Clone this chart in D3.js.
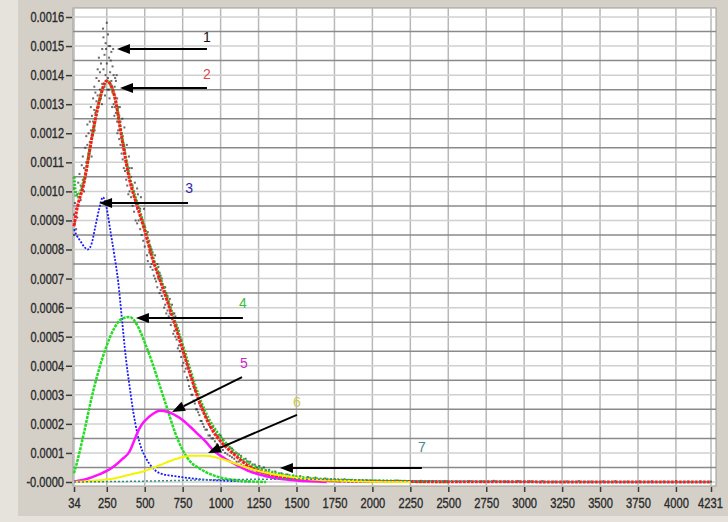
<!DOCTYPE html>
<html>
<head>
<meta charset="utf-8">
<script src="https://cdn.jsdelivr.net/npm/d3@7"></script>
<style>
	body { margin: 0; background: #d4d0c8; }
	svg { display: block; }
</style>
</head>
<body>
<div id="chart"></div>
<script>
// y values are in units of 1e-4
const xTicks = [34, 250, 500, 750, 1000, 1250, 1500, 1750, 2000, 2250, 2500, 2750, 3000, 3250, 3500, 3750, 4000, 4231];
const yTicks = [0, 1, 2, 3, 4, 5, 6, 7, 8, 9, 10, 11, 12, 13, 14, 15, 16];
const yTickLabels = ["-0.0000", "0.0001", "0.0002", "0.0003", "0.0004", "0.0005", "0.0006", "0.0007", "0.0008",
	"0.0009", "0.0010", "0.0011", "0.0012", "0.0013", "0.0014", "0.0015", "0.0016"];
const yMinorGrid = [0.5, 1.5, 2.5, 3.5, 4.5, 5.5, 6.5, 7.5, 8.5, 9.5, 10.5, 11.5, 12.5, 13.5, 14.5, 15.5];

// measured points (black): [x, y, y, ...]
const blackDots = [
	[34, 8.5, 9.2, 10.1], [40, 8.9, 9.6], [48, 9.4, 8.7], [55, 9.9, 9.1], [62, 9.5, 10.3], [70, 9.8, 10.6],
	[78, 10.2, 9.7], [85, 10.9, 10.1], [92, 10.4, 11.2], [100, 10.8, 10.0], [108, 11.5, 10.6], [115, 11.0, 11.9],
	[122, 11.6, 12.3], [130, 11.3, 12.0], [138, 12.4, 11.7], [145, 12.1, 12.9], [150, 11.2], [152, 12.6, 11.9], [160, 13.2, 12.4],
	[168, 12.8, 13.6], [170, 12.1], [175, 13.4, 12.7], [182, 13.9, 13.1], [190, 13.3, 14.2], [195, 12.9], [198, 13.8, 14.6], [205, 13.5, 14.1],
	[212, 14.4, 13.2], [218, 13.0], [220, 14.9, 13.7], [225, 15.6], [228, 14.2, 15.3], [235, 13.6, 14.7], [238, 13.3],
	[242, 15.1, 14.0], [245, 14.9], [250, 15.8, 14.4], [255, 13.5],
	[258, 13.9, 15.4], [262, 15.0], [265, 14.6, 13.5], [268, 13.2], [272, 15.0, 14.1], [276, 14.5], [280, 13.8, 14.8],
	[285, 12.9], [288, 14.3, 13.4], [292, 14.9], [295, 13.0, 14.0], [300, 12.6],
	[302, 13.6, 12.9], [305, 13.9], [310, 12.7, 13.8], [315, 14.0], [318, 13.2, 12.4], [320, 12.0], [325, 12.1, 12.9],
	[332, 12.6, 11.8], [336, 12.9], [340, 11.6, 12.4],
	[348, 12.0, 11.3], [352, 12.5], [355, 11.1, 11.9], [362, 11.6, 10.8], [366, 12.2], [370, 10.7, 11.4], [378, 11.0, 10.4],
	[382, 11.6], [385, 10.2, 10.9], [392, 10.6, 9.9], [396, 11.2], [400, 10.0, 10.8], [410, 9.8, 10.5], [415, 10.8],
	[420, 10.2, 9.5], [430, 9.3, 10.0], [435, 10.3], [440, 9.7, 9.0],
	[450, 9.4, 8.9, 10.1], [455, 9.9], [460, 9.0, 9.6], [470, 8.7, 9.4], [475, 9.8], [480, 9.1, 8.5], [490, 8.3, 9.0],
	[495, 9.4], [500, 8.8, 8.1],
	[515, 8.4, 7.8], [520, 8.6, 7.6], [530, 7.9, 8.3], [538, 8.1, 7.4], [545, 7.5, 8.0], [552, 7.9, 7.3], [560, 7.6, 7.1],
	[568, 7.8, 7.0], [575, 7.3, 6.9], [583, 7.5, 6.7], [590, 7.0, 7.4], [598, 7.2, 6.5],
	[605, 6.6, 7.1], [612, 7.0, 6.4], [620, 6.8, 6.3], [628, 6.7, 6.0], [635, 6.1, 6.7], [642, 6.5, 5.8], [650, 6.4, 5.9],
	[658, 6.2, 5.7], [665, 5.8, 6.3], [672, 6.0, 5.4], [680, 5.6, 6.1], [688, 5.8, 5.1],
	[695, 5.2, 5.8], [702, 5.7, 5.0], [710, 5.4, 4.9], [718, 5.3, 4.6], [725, 4.7, 5.2], [732, 5.0, 4.5], [740, 4.9, 4.3],
	[748, 4.7, 4.0], [755, 4.1, 4.6], [762, 4.4, 3.8], [770, 3.9, 4.4], [778, 4.1, 3.6],
	[785, 3.5, 4.0], [792, 3.9, 3.3], [800, 3.8, 3.2], [808, 3.6, 3.0], [815, 3.0, 3.5], [822, 3.3, 2.8], [830, 3.2, 2.7],
	[838, 3.1, 2.5], [845, 2.5, 3.0], [852, 2.9, 2.4], [860, 2.7, 2.3], [868, 2.6, 2.1],
	[875, 2.1, 2.6], [882, 2.5, 2.0], [890, 2.4, 1.9], [900, 2.3, 1.8], [910, 1.8, 2.2], [920, 2.1, 1.6], [930, 1.9, 1.6],
	[940, 1.9, 1.5], [950, 1.5, 1.9], [962, 1.8, 1.4], [975, 1.6, 1.3], [988, 1.6, 1.2],
	[1000, 1.2, 1.6], [1015, 1.45, 1.1], [1030, 1.3, 1.0], [1045, 1.3, 0.95], [1060, 0.9, 1.2], [1075, 1.15, 0.85],
	[1090, 1.0, 0.8], [1105, 1.0, 0.7], [1120, 0.7, 0.95], [1135, 0.9, 0.6], [1150, 0.75, 0.55], [1165, 0.8, 0.55],
	[1180, 0.5, 0.7], [1195, 0.7, 0.45], [1210, 0.6, 0.4], [1225, 0.6, 0.4], [1240, 0.35, 0.5], [1255, 0.55, 0.35],
	[1270, 0.45, 0.3], [1285, 0.5, 0.3], [1300, 0.28, 0.4], [1320, 0.42, 0.25], [1340, 0.2, 0.32], [1360, 0.36, 0.2],
	[1380, 0.25, 0.15], [1400, 0.3, 0.18], [1420, 0.12, 0.22], [1440, 0.26, 0.14], [1460, 0.18, 0.1], [1480, 0.22, 0.12],
	[1500, 0.08, 0.16], [1525, 0.2, 0.1], [1550, 0.12, 0.06], [1575, 0.17, 0.08], [1600, 0.05, 0.11], [1625, 0.15, 0.07],
	[1660, 0.09, 0.04], [1690, 0.12, 0.06], [1720, 0.03, 0.08], [1750, 0.1, 0.05], [1780, 0.06, 0.02], [1815, 0.09, 0.04],
	[1850, 0.04, 0.07], [1885, 0.07, 0.03], [1920, 0.02, 0.05], [1960, 0.06, 0.02], [2000, 0.04, 0.01],
	[2080, 0.03], [2160, 0.05], [2240, 0.02], [2320, 0.04], [2400, 0.02], [2480, 0.03], [2560, 0.01], [2640, 0.03],
	[2720, 0.02], [2800, 0.04], [2880, 0.01], [2960, 0.03], [3040, 0.02], [3120, 0.03], [3200, 0.01], [3280, 0.02],
	[3360, 0.03], [3440, 0.01], [3520, 0.02], [3600, 0.03], [3680, 0.01], [3760, 0.02], [3840, 0.02], [3920, 0.01],
	[4000, 0.03], [4080, 0.01], [4160, 0.02], [4231, 0.01]
];

// fitted total (red)
const fitTotal = [[34, 8.8], [50, 9.3], [100, 10.3], [150, 11.8], [200, 13.1], [250, 13.8], [300, 13.3], [350, 11.8],
	[400, 10.4], [450, 9.5], [500, 8.65], [550, 7.7], [600, 6.95], [650, 6.2], [700, 5.4], [750, 4.55], [800, 3.7],
	[850, 2.9], [900, 2.25], [950, 1.75], [1000, 1.4], [1100, 0.9], [1200, 0.5], [1300, 0.3], [1400, 0.18], [1500, 0.1],
	[1600, 0.07], [1750, 0.04], [2000, 0.02], [2500, 0.01], [3000, 0.005], [4231, 0]];
// smoothed data (green, under red)
const smoothTotal = [[34, 10.5], [50, 9.8], [100, 10.4], [150, 11.8], [200, 13.1], [250, 13.8], [300, 13.3], [350, 11.9],
	[400, 10.5], [450, 9.6], [500, 8.75], [550, 7.8], [600, 7.05], [650, 6.3], [700, 5.5], [750, 4.7], [800, 3.85],
	[850, 3.05], [900, 2.4], [1000, 1.55], [1100, 1.0], [1200, 0.6], [1300, 0.4], [1400, 0.27], [1500, 0.18],
	[1600, 0.12], [1750, 0.08], [2000, 0.04], [2250, 0.02], [2500, 0.01]];
const comp3 = [[34, 8.7], [50, 8.5], [75, 8.3], [100, 8.1], [125, 8.0], [150, 8.2], [175, 8.8], [200, 9.4], [225, 9.8],
	[250, 9.4], [275, 8.6], [300, 7.8], [325, 6.9], [350, 5.6], [375, 4.3], [400, 3.3], [425, 2.4], [450, 1.7],
	[475, 1.2], [500, 0.9], [550, 0.5], [600, 0.3], [700, 0.2], [800, 0.13], [900, 0.08], [1000, 0.05], [1100, 0.03], [1200, 0.01]];
const comp4 = [[34, 0.3], [50, 0.6], [100, 1.7], [150, 2.9], [200, 3.9], [250, 4.7], [300, 5.3], [350, 5.62], [400, 5.68],
	[450, 5.4], [500, 4.8], [550, 4.1], [600, 3.3], [650, 2.5], [700, 1.7], [750, 1.1], [800, 0.7], [850, 0.5],
	[900, 0.35], [1000, 0.15], [1100, 0.06], [1200, 0.02], [1300, 0]];
const comp5 = [[34, 0.02], [100, 0.08], [150, 0.16], [200, 0.26], [250, 0.38], [300, 0.55], [350, 0.78], [400, 1.05],
	[425, 1.35], [450, 1.68], [475, 1.93], [500, 2.1], [550, 2.33], [600, 2.45], [650, 2.42], [700, 2.3], [750, 2.13],
	[800, 1.9], [850, 1.65], [900, 1.4], [950, 1.1], [1000, 0.9], [1100, 0.6], [1200, 0.35], [1300, 0.2], [1400, 0.1],
	[1500, 0.05], [1700, 0]];
const comp6 = [[34, 0], [100, 0.02], [200, 0.06], [300, 0.12], [400, 0.25], [500, 0.38], [600, 0.58], [700, 0.78],
	[800, 0.9], [900, 0.9], [1000, 0.8], [1100, 0.63], [1200, 0.45], [1300, 0.32], [1400, 0.22], [1500, 0.14],
	[1600, 0.09], [1800, 0.04], [2000, 0.01], [2250, 0]];
const comp7 = [[34, 0], [500, 0.03], [1000, 0.08], [1500, 0.1], [2000, 0.06], [2500, 0.03], [3000, 0.01], [4231, 0]];

// arrow annotations: tip, tail and label in data units
const notes = [
	{ label: "1", color: "#111111", tip: [317, 14.9], tail: [910, 14.9], at: [910, 15.31] },
	{ label: "2", color: "#e04848", tip: [337, 13.56], tail: [910, 13.56], at: [910, 14.04] },
	{ label: "3", color: "#2a2ab0", tip: [199, 9.6], tail: [785, 9.6], at: [792, 10.12] },
	{ label: "4", color: "#3cbc3c", tip: [442, 5.64], tail: [1147, 5.64], at: [1147, 6.16] },
	{ label: "5", color: "#c828c8", tip: [680, 2.41], tail: [1141, 3.61], at: [1154, 4.09] },
	{ label: "6", color: "#c8c850", tip: [917, 1.0], tail: [1503, 2.31], at: [1503, 2.75] },
	{ label: "7", color: "#3f8b82", tip: [1391, 0.48], tail: [2326, 0.48], at: [2326, 1.2] }
];

const width = 728, height = 522;
const plot = { left: 73, right: 716, top: 8, bottom: 486 };

const x = d3.scaleLinear().domain([34, 4231]).range([74, 711]);
const y = d3.scaleLinear().domain([0, 16]).range([482, 17]);

const svg = d3.select("#chart").append("svg")
	.attr("width", width)
	.attr("height", height);

// panel background
svg.append("rect").attr("width", width).attr("height", height).attr("fill", "#e6e3dd");
svg.append("rect").attr("x", 18).attr("y", 0).attr("width", 710).attr("height", 516).attr("fill", "#d4d0c8");

// plot area
svg.append("rect")
	.attr("x", plot.left).attr("y", plot.top)
	.attr("width", plot.right - plot.left).attr("height", plot.bottom - plot.top)
	.attr("fill", "#ffffff")
	.attr("stroke", "#9c9a94");

const grid = svg.append("g");
grid.selectAll(".vg").data(xTicks).enter().append("line")
	.attr("x1", d => x(d)).attr("x2", d => x(d))
	.attr("y1", plot.top).attr("y2", plot.bottom)
	.attr("stroke", "#b8b8b8").attr("stroke-width", 1.5);
grid.selectAll(".hg").data(yTicks).enter().append("line")
	.attr("x1", plot.left).attr("x2", plot.right)
	.attr("y1", d => y(d)).attr("y2", d => y(d))
	.attr("stroke", "#d0d0d0").attr("stroke-width", 1.5);
grid.selectAll(".hm").data(yMinorGrid).enter().append("line")
	.attr("x1", plot.left).attr("x2", plot.right)
	.attr("y1", d => y(d)).attr("y2", d => y(d))
	.attr("stroke", "#8a8a8a").attr("stroke-width", 1.5);

// Y-axis
const yAxis = svg.append("g")
	.attr("transform", "translate(" + (plot.left - 1) + ",0)")
	.call(d3.axisLeft(y).tickValues(yTicks).tickSize(6).tickPadding(2).tickFormat((d, i) => yTickLabels[i]));
// X-axis
const xAxis = svg.append("g")
	.attr("transform", "translate(0," + (plot.bottom + 1) + ")")
	.call(d3.axisBottom(x).tickValues(xTicks).tickSize(5).tickPadding(6).tickFormat(d => d));

// narrow bitmap-like labels: squeeze each label to its width
function narrowWidth(s) {
	let w = 0;
	for (const c of s) w += c === "." ? 2.6 : c === "-" ? 4 : 6.2;
	return w;
}
[yAxis, xAxis].forEach(ax => {
	ax.select(".domain").remove();
	ax.selectAll(".tick line").attr("stroke", "#3a3a3a").attr("stroke-width", 1.5);
	ax.selectAll("text")
		.attr("fill", "#2a2a2a")
		.attr("stroke", "#2a2a2a")
		.attr("stroke-width", 0.35)
		.attr("textLength", function () { return narrowWidth(this.textContent); })
		.attr("lengthAdjust", "spacingAndGlyphs")
		.style("font-family", "'Liberation Sans', Arial, sans-serif")
		.style("font-size", "14px");
});
// keep the last x label inside the panel
xAxis.selectAll(".tick").filter(d => d === 4231).select("text").attr("dx", -1);

// black measured points
const dots = blackDots.flatMap(r => r.slice(1).map(v => [r[0], v]));
svg.append("g").selectAll("rect").data(dots).enter().append("rect")
	.attr("x", d => x(d[0]) - 1)
	.attr("y", d => y(d[1]) - 1)
	.attr("width", 2).attr("height", 2)
	.attr("fill", "#2a2a2a")
	.attr("opacity", 0.7);

const line = d3.line().x(d => x(d[0])).y(d => y(d[1])).curve(d3.curveMonotoneX);

const series = [
	{ data: smoothTotal, color: "#22cc22", w: 3, dash: "2,1.5" },
	{ data: fitTotal, color: "#ff1a1a", w: 3, dash: "3,1" },
	{ data: comp3, color: "#1a1aff", w: 1.8, dash: "2,1.5" },
	{ data: comp4, color: "#22dd22", w: 2.5, dash: "3,1" },
	{ data: comp5, color: "#ff10ff", w: 2.5, dash: null },
	{ data: comp6, color: "#f4f400", w: 2, dash: null },
	{ data: comp7, color: "#2f8f80", w: 1.5, dash: "2,2" }
];

svg.append("g").selectAll("path").data(series).enter().append("path")
	.attr("d", d => line(d.data))
	.attr("fill", "none")
	.attr("stroke", d => d.color)
	.attr("stroke-width", d => d.w)
	.attr("stroke-dasharray", d => d.dash);

// Annotations
const ann = svg.append("g");
notes.forEach(n => {
	const x1 = x(n.tail[0]), y1 = y(n.tail[1]);
	const x2 = x(n.tip[0]), y2 = y(n.tip[1]);
	const ang = Math.atan2(y2 - y1, x2 - x1);
	const len = 13, hw = 5;
	const bx = x2 - len * Math.cos(ang), by = y2 - len * Math.sin(ang);
	ann.append("line")
		.attr("x1", x1).attr("y1", y1).attr("x2", bx).attr("y2", by)
		.attr("stroke", "#000").attr("stroke-width", 2);
	ann.append("path")
		.attr("d", "M" + x2 + "," + y2 +
			"L" + (bx + hw * Math.sin(ang)) + "," + (by - hw * Math.cos(ang)) +
			"L" + (bx - hw * Math.sin(ang)) + "," + (by + hw * Math.cos(ang)) + "Z")
		.attr("fill", "#000");
	ann.append("text")
		.attr("x", x(n.at[0]))
		.attr("y", y(n.at[1]))
		.attr("dy", "0.35em")
		.attr("text-anchor", "middle")
		.attr("fill", n.color)
		.style("font-family", "'Liberation Sans', Arial, sans-serif")
		.style("font-size", "14px")
		.text(n.label);
});
</script>
</body>
</html>
